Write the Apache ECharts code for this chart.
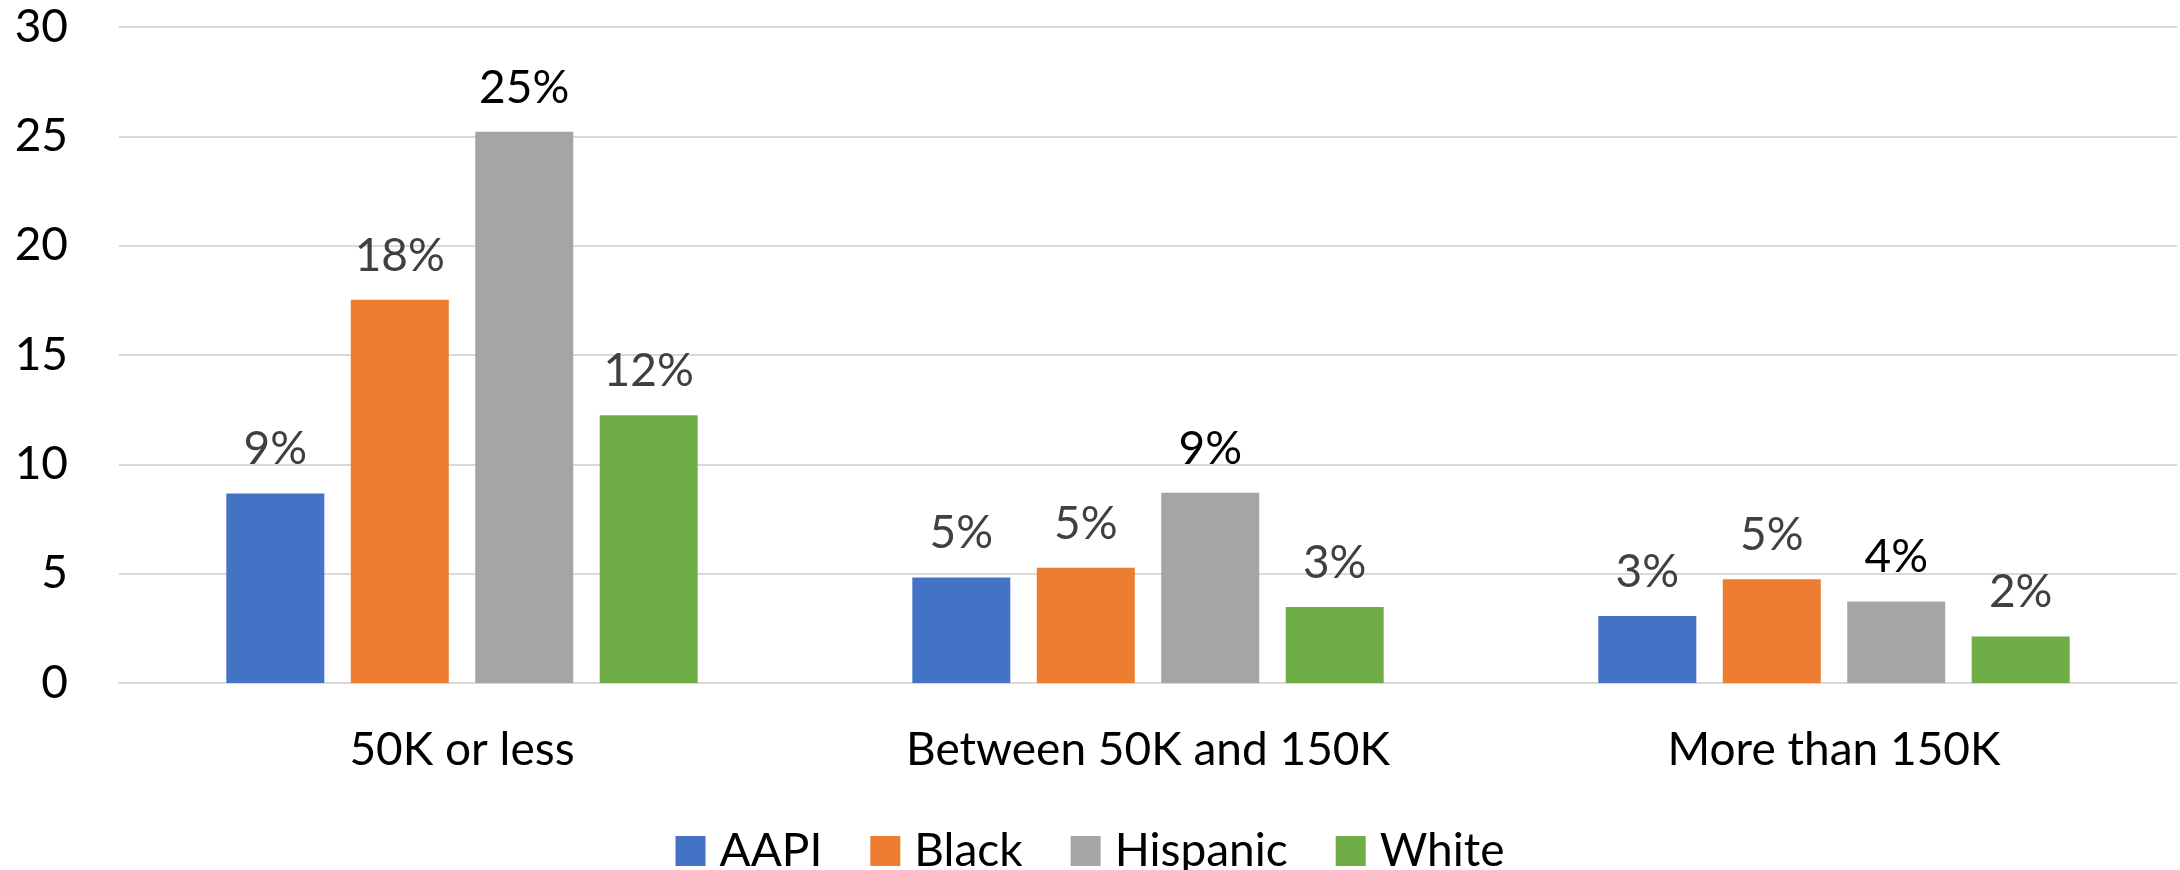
<!DOCTYPE html>
<html>
<head>
<meta charset="utf-8">
<script src="https://cdn.jsdelivr.net/npm/echarts@6/dist/echarts.min.js"></script>
<style>
  html, body { margin: 0; padding: 0; background: #ffffff; }
  #chart { width: 2180px; height: 870px; }
</style>
</head>
<body>
<div id="chart"></div>
<script>
// Income brackets on the x axis
const categories = ['50K or less', 'Between 50K and 150K', 'More than 150K'];

// Share (%) per group in each income bracket
const aapi     = [8.67, 4.83, 3.06];
const black    = [17.53, 5.27, 4.74];
const hispanic = [25.21, 8.70, 3.73];
const white    = [12.24, 3.47, 2.13];

const seriesNames = ['AAPI', 'Black', 'Hispanic', 'White'];
const seriesColors = ['#4472C4', '#ED7D31', '#A5A5A5', '#70AD47'];
const labelColors = ['#404040', '#404040', '#000000', '#404040'];

// Y axis ticks
const yMin = 0;
const yMax = 30;
const yStep = 5;

const FONT = 'Lato';
const FS = 46;

const chart = echarts.init(document.getElementById('chart'), null, { renderer: 'canvas' });

const values = [aapi, black, hispanic, white];

const series = seriesNames.map((name, i) => ({
  name: name,
  type: 'bar',
  data: values[i],
  barWidth: 98,
  barGap: '27%',
  itemStyle: { color: seriesColors[i] },
  label: {
    show: true,
    position: 'top',
    distance: 21,
    color: labelColors[i],
    fontFamily: FONT,
    fontSize: FS,
    formatter: p => Math.round(p.value) + '%'
  },
  emphasis: { disabled: true }
}));

chart.setOption({
  animation: false,
  backgroundColor: '#ffffff',
  grid: { left: 119, right: 3, top: 27, bottom: 187, containLabel: false },
  legend: {
    data: seriesNames,
    left: 'center',
    top: 823,
    itemWidth: 30,
    itemHeight: 30,
    itemGap: 48,
    icon: 'rect',
    textStyle: { fontFamily: FONT, fontSize: FS, color: '#000000', padding: [0, 0, 0, 9] }
  },
  xAxis: {
    type: 'category',
    data: categories,
    axisLine: { show: true, lineStyle: { color: '#D9D9D9', width: 2 } },
    axisTick: { show: false },
    axisLabel: { margin: 44, color: '#000000', fontFamily: FONT, fontSize: FS }
  },
  yAxis: {
    type: 'value',
    min: yMin,
    max: yMax,
    interval: yStep,
    axisLine: { show: false },
    axisTick: { show: false },
    splitLine: { show: true, lineStyle: { color: '#D9D9D9', width: 2 } },
    axisLabel: { margin: 51, color: '#000000', fontFamily: FONT, fontSize: FS }
  },
  series: series
});
</script>
</body>
</html>
